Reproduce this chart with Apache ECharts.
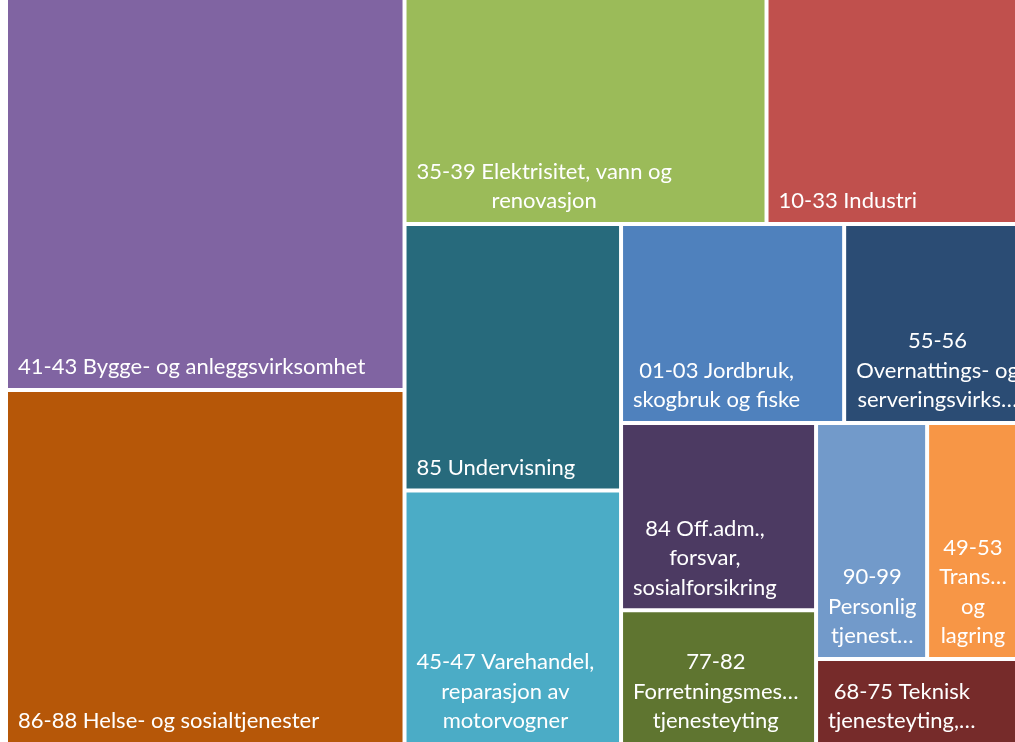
<!DOCTYPE html>
<html>
<head>
<meta charset="utf-8">
<style>
  html, body { margin: 0; padding: 0; background: #ffffff; }
  #chart { width: 1015px; height: 742px; }
</style>
<script src="https://cdn.jsdelivr.net/npm/echarts@6/dist/echarts.min.js"></script>
</head>
<body>
<div id="chart"></div>
<script>
// ---- data (order as laid out in the reference) ----
const categories = [
  "41-43 Bygge- og anleggsvirksomhet",
  "86-88 Helse- og sosialtjenester",
  "35-39 Elektrisitet, vann og\nrenovasjon",
  "10-33 Industri",
  "85 Undervisning",
  "45-47 Varehandel,\nreparasjon av\nmotorvogner",
  "01-03 Jordbruk,\nskogbruk og fiske",
  "55-56\nOvernattings- og\nserveringsvirks\u2026",
  "84 Off.adm.,\nforsvar,\nsosialforsikring",
  "77-82\nForretningsmes\u2026\ntjenesteyting",
  "90-99\nPersonlig\ntjenest\u2026",
  "49-53\nTrans\u2026\nog\nlagring",
  "68-75 Teknisk\ntjenesteyting,\u2026"
];
const values = [156.2, 141.1, 81.8, 56.6, 57.7, 54.9, 44.4, 34.4, 36.5, 26.1, 26.2, 21.2, 17.1];
const colors = [
  "#8064A2", "#B65708", "#9BBB59", "#C0504D", "#276A7C", "#4BACC6", "#4F81BD",
  "#2B4C74", "#4C3A62", "#5F7530", "#729ACA", "#F79646", "#762B2A"
];
// how many consecutive items form each strip of the layout
const stripSizes = [2, 2, 2, 2, 2, 3];

// ---- styling ----
const FONT = "Lato";
const FONT_SIZE = 22;
const LINE_HEIGHT = 29.5;
const PAD_LEFT = 10;

const ctx = document.createElement("canvas").getContext("2d");
ctx.font = "normal normal " + FONT_SIZE + "px " + FONT;
function blockWidth(text) {
  return Math.max.apply(null, text.split("\n").map(function (s) { return ctx.measureText(s).width; }));
}

function leaf(i) {
  return {
    name: categories[i],
    value: values[i],
    itemStyle: { color: colors[i], borderColor: "#ffffff", borderWidth: 2, gapWidth: 0 },
    label: { position: [PAD_LEFT + blockWidth(categories[i]) / 2, "100%"] }
  };
}

function buildTree(stripIdx, start) {
  const n = stripSizes[stripIdx];
  const children = [];
  for (let i = start; i < start + n; i++) children.push(leaf(i));
  if (stripIdx < stripSizes.length - 1) {
    children.push({
      name: "group" + stripIdx,
      itemStyle: { borderWidth: 0, gapWidth: 0, borderColor: "#ffffff", color: "#ffffff" },
      children: buildTree(stripIdx + 1, start + n)
    });
  }
  return children;
}

const chart = echarts.init(document.getElementById("chart"), null, { renderer: "canvas" });
chart.setOption({
  animation: false,
  tooltip: { show: false },
  series: [{
    type: "treemap",
    left: 6,
    top: -2,
    width: 1011,
    height: 746,
    roam: false,
    nodeClick: false,
    sort: false,
    visibleMin: 0,
    breadcrumb: { show: false },
    upperLabel: { show: false },
    itemStyle: { borderWidth: 0, gapWidth: 0, borderColor: "#ffffff" },
    label: {
      show: true,
      color: "#ffffff",
      fontFamily: FONT,
      fontSize: FONT_SIZE,
      lineHeight: LINE_HEIGHT,
      align: "center",
      verticalAlign: "bottom",
      padding: [0, 0, 6, 0],
      overflow: "none"
    },
    emphasis: { disabled: true },
    data: buildTree(0, 0)
  }]
});
</script>
</body>
</html>
